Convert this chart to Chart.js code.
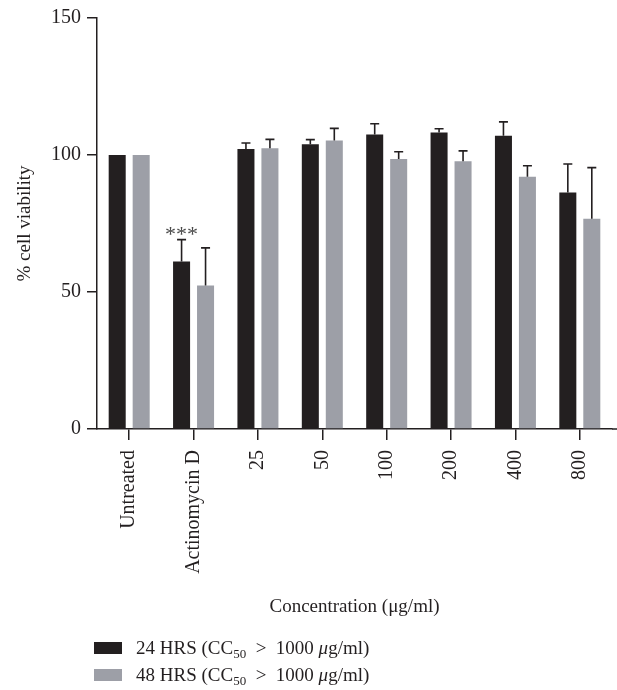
<!DOCTYPE html>
<html>
<head>
<meta charset="utf-8">
<script src="https://cdn.jsdelivr.net/npm/chart.js@4/dist/chart.umd.min.js"></script>
<style>
  html, body { margin: 0; padding: 0; background: #fff; }
  #wrap { position: relative; width: 617px; height: 690px; }
</style>
</head>
<body>
<div id="wrap"><canvas id="viabilityChart"></canvas></div>
<script>
// ── Data ──
const categories = ['Untreated', 'Actinomycin D', '25', '50', '100', '200', '400', '800'];
const hrs24 = [100, 61.1, 102.2, 103.9, 107.5, 108.2, 107.0, 86.3];
const hrs24Err = [0, 8.0, 2.2, 1.7, 3.9, 1.4, 5.1, 10.4];
const hrs48 = [100, 52.4, 102.5, 105.3, 98.5, 97.7, 92.1, 76.7];
const hrs48Err = [0, 13.7, 3.2, 4.4, 2.7, 3.8, 4.0, 18.7];
const yTicks = [0, 50, 100, 150];
const seriesNames = ['24 HRS', '48 HRS'];
const signifIndex = 1; // *** over Actinomycin D, 24 HRS

const SERIF = "'Liberation Serif', 'DejaVu Serif', serif";
const INK = '#231f20';
const COLORS = { dark: '#231f20', grey: '#9d9fa7' };
const errors = [hrs24Err, hrs48Err];

// ── Error bars (upper only) + *** + legend with subscripts ──
const extras = {
  id: 'extras',
  afterDatasetsDraw(chart) {
    const { ctx, scales: { y } } = chart;
    ctx.save();
    ctx.strokeStyle = INK;
    ctx.lineWidth = 1.6;
    chart.data.datasets.forEach((ds, di) => {
      const meta = chart.getDatasetMeta(di);
      meta.data.forEach((bar, i) => {
        const e = errors[di][i];
        if (!e) return;
        const yTop = y.getPixelForValue(ds.data[i] + e);
        const yBar = y.getPixelForValue(ds.data[i]);
        ctx.beginPath();
        ctx.moveTo(bar.x, yBar);
        ctx.lineTo(bar.x, yTop);
        ctx.moveTo(bar.x - 4.5, yTop);
        ctx.lineTo(bar.x + 4.5, yTop);
        ctx.stroke();
      });
    });

    // significance stars
    const sBar = chart.getDatasetMeta(0).data[signifIndex];
    const sTop = y.getPixelForValue(hrs24[signifIndex] + hrs24Err[signifIndex]);
    ctx.fillStyle = '#4a4a4a';
    ctx.font = '22px ' + SERIF;
    ctx.textAlign = 'center';
    ctx.textBaseline = 'alphabetic';
    [-11, 0, 11].forEach(dx => ctx.fillText('*', sBar.x + dx, sTop + 1));
    ctx.restore();
  },
  afterDraw(chart) {
    const { ctx } = chart;
    ctx.save();
    // stretch the x axis line to the right edge like the figure
    const area = chart.chartArea;
    ctx.strokeStyle = INK;
    ctx.lineWidth = 1.5;
    ctx.beginPath();
    ctx.moveTo(area.right, area.bottom);
    ctx.lineTo(617, area.bottom);
    ctx.stroke();

    const rows = [
      { color: COLORS.dark, name: seriesNames[0], cy: 648 },
      { color: COLORS.grey, name: seriesNames[1], cy: 675 }
    ];
    rows.forEach(r => {
      ctx.fillStyle = r.color;
      ctx.fillRect(94, r.cy - 6, 28, 12);
      ctx.fillStyle = INK;
      ctx.textAlign = 'left';
      ctx.textBaseline = 'alphabetic';
      const base = r.cy + 6;
      let x = 136;
      ctx.font = '19px ' + SERIF;
      const a = r.name + ' (CC';
      ctx.fillText(a, x, base);
      x += ctx.measureText(a).width;
      ctx.font = '13px ' + SERIF;
      ctx.fillText('50', x, base + 4);
      x += ctx.measureText('50').width;
      ctx.font = '19px ' + SERIF;
      ctx.fillText('  >  1000 ', x, base);
      x += ctx.measureText('  >  1000 ').width;
      ctx.font = 'italic 19px ' + SERIF;
      ctx.fillText('\u03bc', x, base);
      x += ctx.measureText('\u03bc').width;
      ctx.font = '19px ' + SERIF;
      ctx.fillText('g/ml)', x, base);
    });
    ctx.restore();
  }
};

new Chart(document.getElementById('viabilityChart').getContext('2d'), {
  type: 'bar',
  data: {
    labels: categories,
    datasets: [
      { label: seriesNames[0], data: hrs24, backgroundColor: COLORS.dark,
        categoryPercentage: 0.745, barPercentage: 0.71 },
      { label: seriesNames[1], data: hrs48, backgroundColor: COLORS.grey,
        categoryPercentage: 0.745, barPercentage: 0.71 }
    ]
  },
  options: {
    responsive: true,
    maintainAspectRatio: false,
    animation: false,
    layout: { padding: { left: 0, right: 5, top: 16, bottom: 70 } },
    scales: {
      x: {
        afterFit: s => { s.height = 191; },
        grid: { offset: false, drawOnChartArea: false, drawTicks: true, tickLength: 11, color: INK, lineWidth: 1.5 },
        border: { color: INK, width: 1.5 },
        ticks: {
          color: INK, font: { family: SERIF, size: 20 },
          minRotation: 90, maxRotation: 90, autoSkip: false, padding: 10
        },
        title: {
          display: true, text: 'Concentration (\u03bcg/ml)', color: INK,
          font: { family: SERIF, size: 19 }, padding: { top: 0, bottom: 2 }
        }
      },
      y: {
        min: 0, max: 150,
        afterFit: s => { s.width = 97; },
        afterBuildTicks: s => { s.ticks = yTicks.map(v => ({ value: v })); },
        grid: { drawOnChartArea: false, drawTicks: true, tickLength: 10, color: INK, lineWidth: 1.5 },
        border: { color: INK, width: 1.5 },
        ticks: { color: INK, font: { family: SERIF, size: 20 }, padding: 6 },
        title: {
          display: true, text: '% cell viability', color: INK,
          font: { family: SERIF, size: 19 }, padding: { top: 14, bottom: 0 }
        }
      }
    },
    plugins: {
      legend: { display: false },
      tooltip: { enabled: false }
    }
  },
  plugins: [extras]
});
</script>
</body>
</html>
